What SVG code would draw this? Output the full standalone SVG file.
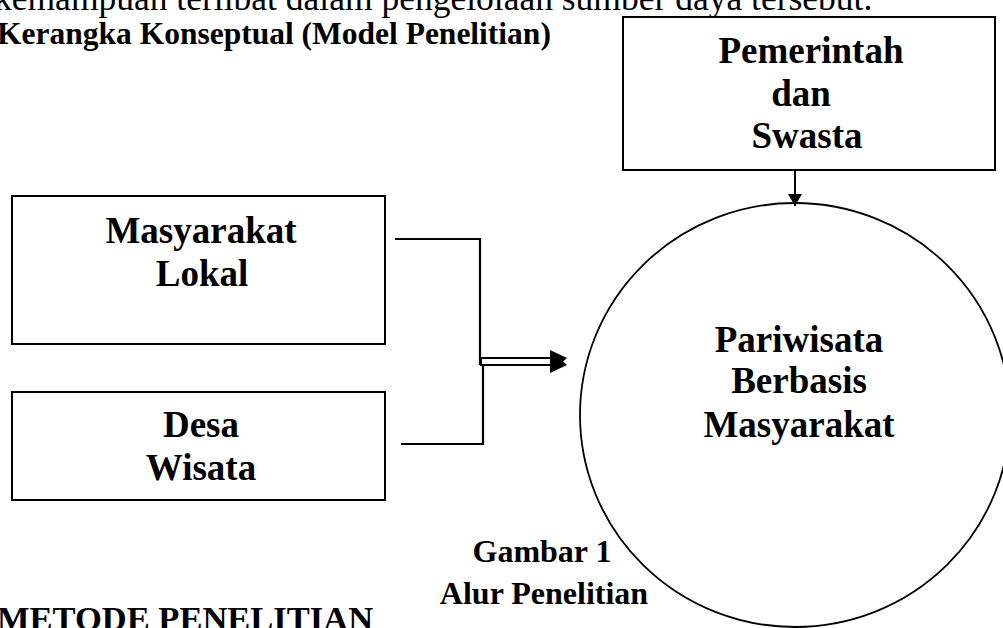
<svg xmlns="http://www.w3.org/2000/svg" width="1003" height="628" viewBox="0 0 1003 628">
<style>
.t{font-family:"Liberation Serif","Times New Roman",serif;fill:#000}
.b{font-weight:bold}
.n{font-size:37px;text-anchor:middle;font-weight:bold}
.box{fill:#fff;stroke:#000;stroke-width:2}
.ln{fill:none;stroke:#000;stroke-width:2.2}
</style>
<defs>
<marker id="ah" markerWidth="12" markerHeight="14" refX="12" refY="7" orient="auto" markerUnits="userSpaceOnUse">
<path d="M0,0 L12,7 L0,14 Z" fill="#000"/>
</marker>
</defs>
<rect width="1003" height="628" fill="#fff"/>
<text class="t" x="-6" y="10" font-size="35.5">kemampuan terlibat dalam pengelolaan sumber daya tersebut.</text>
<text class="t b" x="-3" y="44" font-size="31.5">Kerangka Konseptual (Model Penelitian)</text>
<text class="t b" x="-3" y="630" font-size="34.5">METODE PENELITIAN</text>
<g id="pemerintah">
<rect class="box" x="623" y="17" width="372" height="153"/>
<text class="t n" x="811" y="63">Pemerintah</text>
<text class="t n" x="801" y="106">dan</text>
<text class="t n" x="807" y="148">Swasta</text>
</g>
<g id="masyarakat-lokal">
<rect class="box" x="12" y="196" width="373" height="148"/>
<text class="t n" x="201" y="243">Masyarakat</text>
<text class="t n" x="202" y="286">Lokal</text>
</g>
<g id="desa-wisata">
<rect class="box" x="12" y="392" width="373" height="108"/>
<text class="t n" x="201" y="437">Desa</text>
<text class="t n" x="201" y="480">Wisata</text>
</g>
<g id="pariwisata">
<ellipse cx="795" cy="415" rx="215" ry="212" fill="none" stroke="#000" stroke-width="1.8"/>
<text class="t n" x="799" y="352">Pariwisata</text>
<text class="t n" x="799" y="393">Berbasis</text>
<text class="t n" x="799" y="437">Masyarakat</text>
</g>
<g id="caption">
<text class="t b" x="542" y="562" font-size="32" text-anchor="middle">Gambar 1</text>
<text class="t b" x="544" y="604" font-size="32" text-anchor="middle">Alur Penelitian</text>
</g>
<g id="connectors">
<polyline class="ln" points="395,239 480,239 480,365"/>
<polyline class="ln" points="401,444 483,444 483,363"/>
<rect x="481" y="358" width="70" height="7" fill="#fff" stroke="#000" stroke-width="2"/>
<polygon points="550,350 567,358 563,361.5 567,365 550,373" fill="#000"/>
<line x1="795" y1="170" x2="795" y2="206" stroke="#000" stroke-width="2" marker-end="url(#ah)"/>
</g>
</svg>
